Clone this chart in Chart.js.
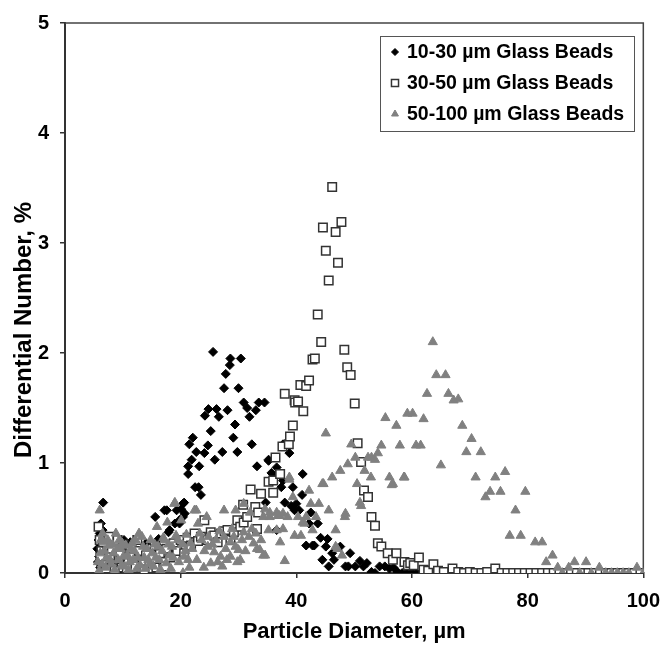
<!DOCTYPE html>
<html>
<head>
<meta charset="utf-8">
<script src="https://cdn.jsdelivr.net/npm/chart.js@4.4.0/dist/chart.umd.min.js"></script>
<style>
  html, body { margin: 0; padding: 0; background: #fff; }
  #wrap { width: 671px; height: 647px; }
</style>
</head>
<body>
<div id="wrap"><canvas id="psdChart"></canvas></div>
<script>
// series labels
const seriesNames = ['10-30 µm Glass Beads', '30-50 µm Glass Beads', '50-100 µm Glass Beads'];
const xTitle = 'Particle Diameter, µm';
const yTitle = 'Differential Number, %';

// 10-30 um beads (diamonds)
const beads10X = [
  5.6,5.8,6.0,6.2,6.5,6.6,6.9,7.2,7.6,8.0,
  8.4,8.8,9.2,9.6,10.0,10.5,11.0,11.5,12.0,12.5,
  13.0,13.5,14.0,14.5,15.0,15.6,16.2,16.6,17.2,17.6,
  17.9,18.1,18.6,19.0,19.3,19.8,19.8,20.1,20.4,20.4,
  20.6,20.7,21.3,21.3,21.5,21.9,22.1,22.5,22.7,23.1,
  23.2,23.5,24.1,24.2,24.7,24.8,25.2,25.6,25.9,26.2,
  26.6,27.2,27.5,27.8,28.1,28.5,28.6,29.1,29.4,29.8,
  30.0,30.4,30.9,31.5,31.9,32.3,33.0,33.2,33.5,34.5,
  34.7,35.2,35.2,35.7,36.3,36.6,36.6,36.8,37.4,37.7,
  37.7,38.0,38.8,39.1,39.4,39.7,40.0,40.5,41.0,41.1,
  41.7,42.2,42.5,42.8,43.1,43.7,44.2,44.5,45.1,45.4,
  45.6,46.2,46.5,47.6,48.5,49.0,49.3,50.2,51.0,51.6,
  52.2,53.0,53.6,54.4,55.3,56.1,56.8,57.5,58.3,59.1,
  59.9,60.7,61.5,62.3,63.1,63.9,64.7,65.5,66.3,67.1,
  67.9,68.7,69.5,70.3,71.1,71.9,72.7,73.5,74.3,75.1,
  75.9,76.7,77.5,78.3,79.1,79.9,80.7,81.5,82.3,83.1,
  83.9,84.7,85.5,86.3,87.1,88.0,88.8,90.6,93.3,95.9,
  98.6,5.7,5.9,6.1,6.3,6.7,7.0,7.4,7.8,8.2,
  8.6,9.0,9.4,10.2,10.8,11.3,12.3,13.3,14.3,15.3,
  16.0
];
const beads10Y = [
  0.22,0.30,0.36,0.45,0.39,0.64,0.25,0.18,0.28,0.12,
  0.21,0.08,0.17,0.24,0.10,0.19,0.07,0.15,0.22,0.05,
  0.18,0.12,0.27,0.09,0.20,0.51,0.31,0.14,0.57,0.57,
  0.37,0.39,0.22,0.45,0.57,0.48,0.45,0.58,0.63,0.51,
  0.64,0.54,0.97,0.90,1.17,1.03,1.23,0.78,1.10,0.78,
  0.97,0.71,1.09,1.43,1.16,1.49,1.29,2.01,1.03,1.49,
  1.42,1.10,1.68,1.81,1.48,1.89,1.95,1.23,1.35,1.10,
  1.68,1.95,1.55,1.50,1.42,1.17,1.48,0.97,1.55,1.55,
  0.64,1.03,1.02,0.91,0.87,0.96,0.39,0.90,0.78,1.17,
  0.84,0.64,1.09,0.61,0.78,0.57,0.63,0.57,0.71,0.90,
  0.25,0.45,0.55,0.25,0.25,0.45,0.32,0.12,0.24,0.31,
  0.06,0.18,0.12,0.24,0.06,0.06,0.18,0.06,0.11,0.06,
  0.09,0.01,0.00,0.06,0.06,0.04,0.05,0.01,0,0,
  0,0,0,0,0,0,0,0,0,0,
  0,0,0,0,0,0,0,0,0,0,
  0,0,0,0,0,0,0,0,0,0,
  0,0,0,0,0,0,0,0,0,0,
  0,0.10,0.15,0.05,0.28,0.12,0.33,0.06,0.20,0.30,
  0.15,0.26,0.03,0.30,0.20,0.28,0.13,0.05,0.16,0.09,
  0.25
];

// 30-50 um beads (open squares)
const beads30X = [
  5.8,6.0,6.3,6.8,7.3,7.8,8.3,8.8,9.3,9.8,
  10.4,11.0,11.6,12.2,12.8,13.4,14.0,14.6,15.2,15.8,
  16.4,17.0,17.6,18.2,18.8,19.4,20.0,20.6,21.2,21.8,
  22.4,23.0,23.5,24.1,24.6,25.2,25.8,26.4,27.0,27.6,
  28.1,28.6,29.2,29.8,30.3,30.8,30.9,31.5,32.1,32.9,
  33.2,33.4,33.9,35.2,36.0,36.0,36.4,37.2,37.6,38.0,
  38.7,38.9,39.4,39.7,39.8,40.3,40.7,41.2,41.7,42.2,
  42.8,43.2,43.7,44.3,44.6,45.1,45.6,46.2,46.8,47.2,
  47.8,48.3,48.8,49.4,50.1,50.6,51.2,51.7,52.4,53.0,
  53.6,54.1,54.7,55.8,56.7,57.3,58.7,59.3,59.7,60.3,
  61.2,62.0,62.8,63.7,64.5,65.5,67.0,68.0,69.0,70.0,
  71.0,72.0,73.0,74.4,75.5,76.5,77.5,78.5,79.5,80.5,
  81.5,82.5,83.5,84.5,85.5,86.5,87.5,88.5,89.5,90.5,
  91.5,92.5,93.5,94.5,95.5,96.5,97.5,98.5,99.5,6.1,
  6.6,7.1,7.6,8.1,8.6,9.1,9.6,10.1,10.7,11.3,
  12.5,13.7,15.5,17.3
];
const beads30Y = [
  0.42,0.30,0.20,0.12,0.25,0.15,0.08,0.20,0.12,0.05,
  0.18,0.10,0.14,0.06,0.20,0.11,0.16,0.08,0.13,0.05,
  0.18,0.10,0.22,0.14,0.27,0.20,0.30,0.18,0.32,0.25,
  0.36,0.29,0.33,0.48,0.30,0.37,0.34,0.28,0.36,0.38,
  0.39,0.30,0.37,0.48,0.42,0.62,0.46,0.51,0.76,0.60,
  0.40,0.55,0.72,0.83,0.84,0.73,1.05,0.90,1.15,1.63,
  1.17,1.24,1.34,1.57,1.55,1.56,1.71,1.47,1.70,1.75,
  1.94,1.95,2.35,2.10,3.14,2.93,2.66,3.51,3.10,2.82,
  3.19,2.03,1.87,1.80,1.54,1.18,1.01,0.75,0.69,0.51,
  0.43,0.27,0.24,0.18,0.12,0.18,0.10,0.07,0.09,0.07,
  0.14,0.03,0.02,0.08,0.02,0.01,0.04,0.01,0,0.01,
  0,0,0.01,0.04,0,0,0,0,0,0,
  0,0,0,0,0,0,0,0,0,0,
  0,0,0,0,0,0,0,0,0,0.15,
  0.28,0.04,0.33,0.22,0.02,0.30,0.17,0.26,0.04,0.22,
  0.30,0.03,0.25,0.06
];

// 50-100 um beads (grey triangles)
const beads50X = [
  5.7,6.0,6.2,6.5,6.8,7.2,7.6,8.0,8.4,8.8,
  9.2,9.6,9.9,10.3,10.8,11.2,11.6,12.0,12.4,12.8,
  13.3,13.7,14.2,14.6,15.1,15.5,15.9,16.3,16.8,17.2,
  17.7,18.1,18.5,18.9,19.0,19.5,20.1,20.4,20.8,21.3,
  21.7,22.4,22.7,23.0,23.6,24.1,24.5,24.7,25.2,25.8,
  26.4,26.9,27.5,27.5,27.8,28.6,28.6,29.5,29.5,29.8,
  30.0,30.6,30.9,30.9,31.8,32.0,32.6,33.2,33.7,34.3,
  34.3,34.6,34.6,35.2,35.4,35.4,36.6,36.6,36.8,37.1,
  37.2,37.7,37.7,38.0,38.5,38.8,38.8,39.4,39.7,40.3,
  40.8,41.1,41.4,41.7,42.2,42.5,42.8,43.4,43.9,44.5,
  44.7,45.1,45.6,46.2,46.8,46.8,47.1,47.6,47.9,48.4,
  48.5,48.9,49.5,50.2,50.5,51.0,51.2,51.8,52.4,52.9,
  53.0,53.6,54.1,54.7,55.4,56.1,56.5,56.7,57.3,57.9,
  58.6,58.7,59.2,60.1,60.7,61.5,62.0,62.6,63.6,64.2,
  65.0,65.8,66.3,67.2,68.0,68.7,69.4,70.3,71.0,71.9,
  72.7,73.5,74.4,75.3,76.1,76.9,77.9,78.8,79.6,81.3,
  82.5,83.2,84.3,85.2,86.0,87.1,88.1,89.0,90.1,91.0,
  92.4,93.5,94.5,95.5,96.5,97.5,98.9,100,5.9,6.1,
  6.4,6.7,7.0,7.4,7.8,8.2,8.6,9.0,9.4,9.8,
  10.1,10.5,11.0,11.4,11.8,12.2,12.6,13.0,13.5,13.9,
  14.4,14.8,15.3,15.7,16.1,16.5,17.0,17.5,17.9,18.3,
  18.7,19.2,19.7,20.3,20.6,21.0,21.5,22.0,22.8,23.3,
  24.0,24.8,25.5,26.1,26.7,27.2,28.0,28.9,29.2,30.3,
  31.2,32.3,33.0,33.9
];
const beads50Y = [
  0.10,0.57,0.30,0.36,0.20,0.14,0.25,0.08,0.18,0.36,
  0.12,0.22,0.27,0.06,0.16,0.10,0.27,0.20,0.04,0.36,
  0.33,0.14,0.22,0.08,0.18,0.26,0.42,0.12,0.20,0.30,
  0.46,0.16,0.24,0.63,0.64,0.30,0.48,0.00,0.20,0.12,
  0.27,0.57,0.57,0.45,0.30,0.20,0.51,0.24,0.09,0.19,
  0.10,0.15,0.57,0.33,0.22,0.28,0.15,0.57,0.24,0.10,
  0.21,0.30,0.63,0.37,0.33,0.55,0.27,0.22,0.21,0.51,
  0.16,0.58,0.16,0.39,0.55,0.51,0.39,0.55,0.52,0.52,
  0.28,0.54,0.40,0.11,0.51,0.87,0.85,0.69,0.34,0.51,
  0.34,0.46,0.45,0.51,0.75,0.63,0.39,0.51,0.63,0.81,
  0.81,1.27,0.57,0.87,0.39,0.24,0.22,0.93,0.16,0.51,
  0.54,0.99,1.17,1.05,0.81,0.64,0.61,0.93,1.05,0.87,
  1.05,1.03,1.09,1.16,1.41,0.87,0.80,0.81,1.34,1.16,
  0.87,0.87,1.45,1.45,1.16,1.16,1.40,1.63,2.10,1.80,
  0.98,1.80,1.63,1.57,1.58,1.34,1.10,1.22,0.87,1.10,
  0.69,0.74,0.87,0.74,0.92,0.34,0.57,0.34,0.74,0.28,
  0.28,0.10,0.16,0.05,0.00,0.05,0.10,0.00,0.10,0.00,
  0.05,0,0,0,0,0,0.05,0,0.02,0.18,
  0.08,0.28,0.05,0.30,0.12,0.26,0.03,0.22,0.30,0.07,
  0.15,0.25,0.03,0.22,0.12,0.30,0.14,0.07,0.24,0.04,
  0.12,0.30,0.06,0.14,0.24,0.03,0.32,0.09,0.26,0.04,
  0.14,0.34,0.10,0.26,0.15,0.35,0.05,0.22,0.12,0.36,
  0.05,0.33,0.26,0.30,0.38,0.06,0.12,0.40,0.33,0.12,
  0.20,0.40,0.36,0.30
];

// axis ranges / ticks
const xRange = [0, 100];
const yRange = [0, 5];
const xStep = 20;
const yStep = 1;

const toPoints = (xs, ys) => xs.map((x, i) => ({ x: x, y: ys[i] }));

const fontFamily = '"Liberation Sans", Arial, sans-serif';

// legend drawn as a boxed key inside the plot
const boxLegend = {
  id: 'boxLegend',
  afterDraw(chart) {
    const ctx = chart.ctx;
    const left = 380, top = 36, w = 254, h = 95;
    ctx.save();
    ctx.fillStyle = '#fff';
    ctx.fillRect(left, top, w, h);
    ctx.strokeStyle = '#555';
    ctx.lineWidth = 1;
    ctx.strokeRect(left + 0.5, top + 0.5, w, h);
    ctx.font = 'bold 19.5px ' + fontFamily;
    ctx.textBaseline = 'middle';
    chart.data.datasets.forEach((ds, i) => {
      const y = top + 16 + i * 31;
      ctx.fillStyle = ds.backgroundColor;
      ctx.strokeStyle = ds.borderColor;
      ctx.lineWidth = ds.borderWidth;
      Chart.helpers.drawPoint(ctx, {
        pointStyle: ds.pointStyle,
        radius: ds.legendRadius,
        rotation: 0,
        borderWidth: ds.borderWidth
      }, left + 15, y);
      ctx.fillStyle = '#000';
      ctx.fillText(ds.label, left + 27, y + 1);
    });
    ctx.restore();
  }
};

// top & right frame lines, plus the y title placed as in the original
const frame = {
  id: 'frame',
  beforeDatasetsDraw(chart) {
    const a = chart.chartArea;
    const ctx = chart.ctx;
    ctx.save();
    ctx.strokeStyle = '#444';
    ctx.lineWidth = 1.5;
    ctx.beginPath();
    ctx.moveTo(a.left, a.top);
    ctx.lineTo(a.right, a.top);
    ctx.lineTo(a.right, a.bottom);
    ctx.stroke();
    ctx.translate(24.5, 330);
    ctx.rotate(-Math.PI / 2);
    ctx.font = 'bold 24px ' + fontFamily;
    ctx.fillStyle = '#000';
    ctx.textAlign = 'center';
    ctx.textBaseline = 'middle';
    ctx.fillText(yTitle, 0, 0);
    ctx.restore();
  }
};

const ctx = document.getElementById('psdChart').getContext('2d');
new Chart(ctx, {
  type: 'scatter',
  data: {
    datasets: [{
      label: seriesNames[0],
      data: toPoints(beads10X, beads10Y),
      pointStyle: 'rectRot',
      pointRadius: 4.5,
      pointHoverRadius: 4.5,
      legendRadius: 3.5,
      backgroundColor: '#000',
      borderColor: '#000',
      borderWidth: 1,
      order: 3
    }, {
      label: seriesNames[1],
      data: toPoints(beads30X, beads30Y),
      pointStyle: 'rect',
      pointRadius: 6,
      pointHoverRadius: 6,
      legendRadius: 5,
      backgroundColor: '#fff',
      borderColor: '#333',
      borderWidth: 1.5,
      order: 2
    }, {
      label: seriesNames[2],
      data: toPoints(beads50X, beads50Y),
      pointStyle: 'triangle',
      pointRadius: 5.3,
      pointHoverRadius: 5.3,
      legendRadius: 4,
      backgroundColor: '#808080',
      borderColor: '#808080',
      borderWidth: 1,
      order: 1
    }]
  },
  options: {
    responsive: true,
    maintainAspectRatio: false,
    animation: false,
    layout: { padding: { left: 0, top: 17, right: 18, bottom: 0 } },
    scales: {
      x: {
        type: 'linear',
        min: xRange[0],
        max: xRange[1],
        afterFit: (scale) => { scale.height = 74; },
        grid: { display: true, drawOnChartArea: false, drawTicks: true, tickLength: 5, color: '#333', lineWidth: 1.5 },
        border: { display: true, color: '#333', width: 2 },
        ticks: {
          stepSize: xStep,
          color: '#000',
          padding: 11,
          maxRotation: 0,
          font: { family: fontFamily, size: 20, weight: 'bold' }
        },
        title: {
          display: true,
          text: xTitle,
          color: '#000',
          padding: { top: 0, bottom: 2 },
          font: { family: fontFamily, size: 22, weight: 'bold' }
        }
      },
      y: {
        min: yRange[0],
        max: yRange[1],
        afterFit: (scale) => { scale.width = 65; },
        grid: { display: true, drawOnChartArea: false, drawTicks: true, tickLength: 5, color: '#333', lineWidth: 1.5 },
        border: { display: true, color: '#333', width: 2 },
        ticks: {
          stepSize: yStep,
          color: '#000',
          padding: 11,
          font: { family: fontFamily, size: 20, weight: 'bold' }
        },
        title: { display: false }
      }
    },
    plugins: {
      legend: { display: false },
      tooltip: { enabled: false }
    }
  },
  plugins: [frame, boxLegend]
});
</script>
</body>
</html>
